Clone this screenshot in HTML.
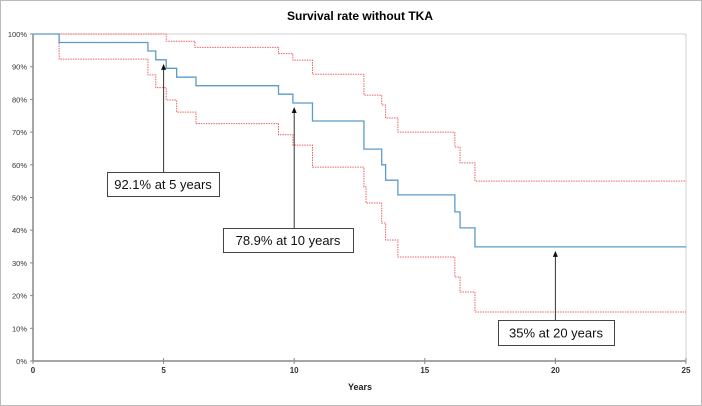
<!DOCTYPE html>
<html><head><meta charset="utf-8"><style>
html,body{margin:0;padding:0;background:#fff;}
svg{display:block;font-family:"Liberation Sans",sans-serif;}
</style></head><body>
<svg id="chart" width="702" height="406" viewBox="0 0 702 406">
<rect x="0.5" y="0.5" width="701" height="405" fill="#fff" stroke="#bbb"/>
<text x="360" y="20" text-anchor="middle" font-size="12" font-weight="bold">Survival rate without TKA</text>
<g id="grid"></g><g id="series"></g><g id="axes"></g><g id="annot"></g>
</svg>
<script>
const xTicks=[0,5,10,15,20,25];
const yTicks=[0,10,20,30,40,50,60,70,80,90,100];
const blueT=[0,1.0,4.4,4.7,5.1,5.5,6.24,9.4,9.95,10.7,12.67,13.35,13.5,13.97,16.15,16.35,16.92,25];
const blueS=[100,97.4,94.8,92.1,89.5,86.8,84.2,81.6,78.9,73.4,64.8,60,55.3,50.8,45.6,40.7,34.9,34.9];
const upT=[0,5.1,6.2,9.4,9.95,10.7,12.67,13.35,13.5,13.97,16.15,16.35,16.92,25];
const upS=[100,97.8,95.9,94,92,87.7,81.3,78.3,74.3,70,65.4,60.6,55,55];
const loT=[0,1.0,4.4,4.7,5.1,5.5,6.24,9.4,9.95,10.7,12.67,12.75,13.35,13.5,13.97,16.15,16.35,16.92,25];
const loS=[100,92.3,87.5,83.6,79.8,76.1,72.6,69.2,66,59.3,53.2,48.3,42.2,37,31.8,25.7,21.1,15,15];
const annotX=[5,10,20];
const annotY=[92.1,78.9,34.9];
const annotLabels=["92.1% at 5 years","78.9% at 10 years","35% at 20 years"];
const annotBox=[[107,172,112,24],[223,228,130,24],[498,320,116,25]];

const NS="http://www.w3.org/2000/svg";
const X0=33,X1=686,Y0=361,Y1=34;
const sx=t=>X0+(X1-X0)*t/25;
const sy=v=>Y0-(Y0-Y1)*v/100;
function mk(tag,attrs,parent){const e=document.createElementNS(NS,tag);for(const k in attrs)e.setAttribute(k,attrs[k]);parent.appendChild(e);return e;}
const grid=document.getElementById('grid'),series=document.getElementById('series'),axes=document.getElementById('axes'),annot=document.getElementById('annot');

let l=mk('line',{x1:X0,y1:sy(100),x2:X1,y2:sy(100),stroke:'#d0d0d0','stroke-width':1},grid);


l=mk('line',{x1:X1,y1:sy(100),x2:X1,y2:Y0,stroke:'#d0d0d0','stroke-width':1},grid);



function stepPath(T,S){let d='M'+sx(T[0])+','+sy(S[0]);for(let i=1;i<T.length;i++){d+=' H'+sx(T[i])+' V'+sy(S[i]);}return d;}
let p=mk('path',{d:stepPath(upT,upS),fill:'none',stroke:'#f06060','stroke-width':1,'stroke-dasharray':'1.5,1'},series);


p=mk('path',{d:stepPath(loT,loS),fill:'none',stroke:'#f06060','stroke-width':1,'stroke-dasharray':'1.5,1'},series);


p=mk('path',{d:stepPath(blueT,blueS),fill:'none',stroke:'#5b9bc8','stroke-width':1.3},series);



l=mk('line',{x1:X0,y1:Y0,x2:X1,y2:Y0,stroke:'#888','stroke-width':1.5},axes);


l=mk('line',{x1:X0,y1:Y0,x2:X0,y2:Y1,stroke:'#888','stroke-width':1.5},axes);


xTicks.forEach(t=>{
  const tk=mk('line',{x1:sx(t),y1:Y0-3,x2:sx(t),y2:Y0+3,stroke:'#888'},axes);
  
  
  const tx=mk('text',{x:sx(t),y:Y0+12,'text-anchor':'middle','font-size':8,'font-weight':'bold',fill:'#333'},axes);
  tx.textContent=t;
  
  
});
yTicks.forEach(v=>{
  const tk=mk('line',{x1:X0-3,y1:sy(v),x2:X0,y2:sy(v),stroke:'#888'},axes);
  
  
  const tx=mk('text',{x:X0-6,y:sy(v)+3,'text-anchor':'end','font-size':7.5,fill:'#333'},axes);
  tx.textContent=v+'%';
  
  
});
let xt=mk('text',{x:360,y:390,'text-anchor':'middle','font-size':9,'font-weight':'bold',fill:'#222'},axes);
xt.textContent='Years';



annotX.forEach((t,i)=>{
  const b=annotBox[i];
  const ax=sx(t), top=sy(annotY[i])+4;
  const ln=mk('line',{x1:ax,y1:b[1],x2:ax,y2:top+5,stroke:'#333','stroke-width':1},annot);
  
  
  const hd=mk('polygon',{points:`${ax-2.5},${top+6} ${ax+2.5},${top+6} ${ax},${top}`,fill:'#111'},annot);
  
  
  const r=mk('rect',{x:b[0]+0.5,y:b[1]+0.5,width:b[2],height:b[3],fill:'#fff',stroke:'#444','stroke-width':1},annot);
  
  
  const tx=mk('text',{x:b[0]+b[2]/2,y:b[1]+b[3]/2+5,'text-anchor':'middle','font-size':13,fill:'#111'},annot);
  tx.textContent=annotLabels[i];
  
  
});
</script>
</body></html>
